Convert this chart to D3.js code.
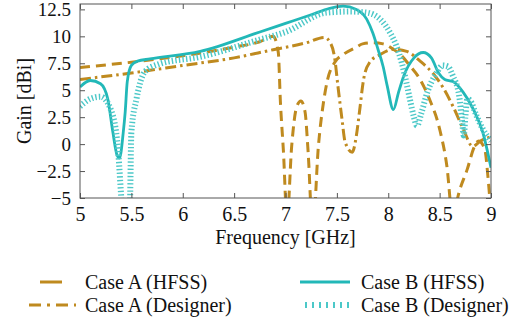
<!DOCTYPE html>
<html>
<head>
<meta charset="utf-8">
<script src="https://cdn.jsdelivr.net/npm/d3@7"></script>
<style>
  body { margin: 0; background: #fff; }
  svg { display: block; font-family: "Liberation Serif", "Times New Roman", Times, serif; }
</style>
</head>
<body>
<div id="chart"></div>
<script>
// Case A (HFSS) - dashed
const caseAHfssFreq = [5.0, 5.5, 6.0, 6.5, 6.75, 6.88, 6.93, 6.95, 6.98, 7.015, 7.06, 7.11, 7.15, 7.19, 7.22, 7.265, 7.32, 7.37, 7.41, 7.48, 7.56, 7.69, 7.75, 7.85, 7.95, 8.05, 8.13, 8.2, 8.31, 8.4, 8.5, 8.57, 8.63, 8.68, 8.77, 8.84, 8.88, 8.94, 8.97, 9.0];
const caseAHfssGain = [7.1, 7.6, 8.2, 9.0, 9.5, 10.0, 8.5, 4.0, -0.7, -7.0, -0.2, 3.5, 4.0, 3.0, -0.7, -8.0, -0.2, 3.9, 6.0, 7.6, 8.3, 9.0, 9.3, 9.4, 9.3, 8.8, 8.2, 7.4, 6.0, 4.2, 1.4, -2.0, -7.0, -4.8, -2.3, -0.2, 0.3, -0.5, -3.0, -6.5];

// Case A (Designer) - dash-dot
const caseADesFreq = [5.0, 5.5, 6.0, 6.5, 6.85, 7.2, 7.38, 7.43, 7.48, 7.51, 7.55, 7.58, 7.65, 7.69, 7.72, 7.76, 7.82, 7.92, 8.05, 8.18, 8.31, 8.44, 8.53, 8.63, 8.73, 8.82, 8.9, 9.0];
const caseADesGain = [6.0, 6.6, 7.3, 8.0, 8.7, 9.4, 9.9, 9.5, 7.9, 5.4, 2.3, 0.2, -0.75, 0.8, 3.0, 6.0, 7.6, 8.3, 8.8, 8.6, 7.7, 6.5, 5.3, 3.5, 1.4, -0.2, 0.3, 0.7];

// Case B (HFSS) - solid
const caseBHfssFreq = [5.0, 5.1, 5.2, 5.27, 5.32, 5.36, 5.385, 5.42, 5.44, 5.46, 5.5, 5.56, 5.68, 6.17, 6.75, 7.0, 7.25, 7.43, 7.56, 7.69, 7.79, 7.85, 7.9, 7.95, 7.99, 8.05, 8.1, 8.15, 8.25, 8.34, 8.42, 8.49, 8.55, 8.63, 8.73, 8.83, 8.92, 9.0];
const caseBHfssGain = [5.3, 5.9, 5.6, 4.2, 1.1, -1.0, -1.3, 1.0, 3.0, 5.8, 7.3, 7.7, 7.9, 8.6, 10.4, 11.2, 12.0, 12.6, 12.8, 12.5, 11.6, 10.3, 8.8, 7.2, 5.4, 3.2, 4.8, 6.3, 8.0, 8.5, 8.0, 6.6, 6.0, 5.8, 4.8, 3.2, 1.1, -2.2];

// Case B (Designer) - dotted
const caseBDesFreq = [5.0, 5.1, 5.2, 5.3, 5.37, 5.41, 5.45, 5.485, 5.5, 5.55, 5.63, 5.76, 6.17, 6.75, 7.0, 7.4, 7.63, 7.79, 7.92, 8.02, 8.08, 8.13, 8.17, 8.21, 8.25, 8.28, 8.32, 8.38, 8.47, 8.53, 8.58, 8.63, 8.69, 8.72, 8.735, 8.75, 8.77, 8.8, 8.86, 8.92, 9.0];
const caseBDesGain = [3.5, 4.2, 4.4, 3.2, -0.5, -6.0, -9.0, -6.0, 1.1, 4.2, 6.7, 7.4, 8.1, 9.7, 10.4, 12.2, 12.3, 12.2, 11.6, 10.3, 9.1, 7.6, 6.0, 4.2, 2.5, 1.7, 2.8, 4.8, 6.6, 7.3, 7.2, 6.3, 4.5, 2.0, 0.8, 2.5, 4.2, 4.0, 2.6, 1.4, 0.3];

const xTicks = [5, 5.5, 6, 6.5, 7, 7.5, 8, 8.5, 9];
const yTicks = [-5, -2.5, 0, 2.5, 5, 7.5, 10, 12.5];

const legendLabels = ['Case A (HFSS)', 'Case A (Designer)', 'Case B (HFSS)', 'Case B (Designer)'];

const orange = '#bf8a1f';
const cyan = '#22b8b8';
const cyanLight = '#4cc8c8';

const width = 523;
const height = 326;
const margin = { left: 80, right: 32, top: 4, bottom: 128 };
const plotW = width - margin.left - margin.right;
const plotH = height - margin.top - margin.bottom;

const svg = d3.select('#chart')
  .append('svg')
  .attr('width', width)
  .attr('height', height);

const x = d3.scaleLinear().domain([5, 9]).range([0, plotW]);
const y = d3.scaleLinear().domain([-5, 13]).range([plotH, 0]);

const g = svg.append('g')
  .attr('transform', `translate(${margin.left},${margin.top})`);

svg.append('defs').append('clipPath')
  .attr('id', 'plot-clip')
  .append('rect')
  .attr('width', plotW)
  .attr('height', plotH);

// build series from the arrays
const series = [
  { freq: caseAHfssFreq, gain: caseAHfssGain, color: orange, width: 3, dash: '10,6' },
  { freq: caseADesFreq, gain: caseADesGain, color: orange, width: 3, dash: '11,4,2.5,4' },
  { freq: caseBHfssFreq, gain: caseBHfssGain, color: cyan, width: 2.8, dash: null },
  { freq: caseBDesFreq, gain: caseBDesGain, color: cyanLight, width: 6, dash: '1.4,2.2' }
];

const line = d3.line()
  .x(d => x(d[0]))
  .y(d => y(d[1]))
  .curve(d3.curveMonotoneX);

const lines = g.append('g').attr('clip-path', 'url(#plot-clip)');

series.forEach(s => {
  const pts = s.freq.map((f, i) => [f, s.gain[i]]);
  lines.append('path')
    .datum(pts)
    .attr('fill', 'none')
    .attr('stroke', s.color)
    .attr('stroke-width', s.width)
    .attr('stroke-dasharray', s.dash)
    .attr('d', line);
});

// frame and inward ticks
const frameColor = '#555';
const tickLen = 5;

g.append('rect')
  .attr('width', plotW)
  .attr('height', plotH)
  .attr('fill', 'none')
  .attr('stroke', frameColor)
  .attr('stroke-width', 1);

const bottomAxis = g.append('g')
  .attr('transform', `translate(0,${plotH})`)
  .call(d3.axisBottom(x).tickValues(xTicks).tickSizeInner(-tickLen).tickSizeOuter(0).tickPadding(9)
    .tickFormat(d3.format('')));
const topAxis = g.append('g')
  .call(d3.axisTop(x).tickValues(xTicks).tickSizeInner(-tickLen).tickSizeOuter(0).tickFormat(''));
const leftAxis = g.append('g')
  .call(d3.axisLeft(y).tickValues(yTicks).tickSizeInner(-tickLen).tickSizeOuter(0).tickPadding(9)
    .tickFormat(d3.format('')));
const rightAxis = g.append('g')
  .attr('transform', `translate(${plotW},0)`)
  .call(d3.axisRight(y).tickValues(yTicks).tickSizeInner(-tickLen).tickSizeOuter(0).tickFormat(''));

[bottomAxis, topAxis, leftAxis, rightAxis].forEach(a => {
  a.select('.domain').remove();
  a.selectAll('line').attr('stroke', frameColor);
  a.selectAll('text')
    .attr('fill', '#111')
    .style('font-family', '"Liberation Serif", "Times New Roman", serif')
    .style('font-size', '20px');
});
leftAxis.selectAll('text').style('font-size', '19px');

// axis titles
svg.append('text')
  .attr('x', margin.left + plotW / 2)
  .attr('y', 244)
  .attr('text-anchor', 'middle')
  .attr('fill', '#111')
  .style('font-size', '20px')
  .text('Frequency [GHz]');

svg.append('text')
  .attr('transform', `translate(31,${margin.top + plotH / 2}) rotate(-90)`)
  .attr('text-anchor', 'middle')
  .attr('fill', '#111')
  .style('font-size', '20px')
  .text('Gain [dBi]');

// legend
const legendItems = [
  { label: legendLabels[0], x1: 40, x2: 62, y: 282, tx: 85, s: series[0], dash: null },
  { label: legendLabels[1], x1: 29, x2: 76, y: 305, tx: 85, s: series[1], dash: '12,6,3,6' },
  { label: legendLabels[2], x1: 300, x2: 350, y: 282, tx: 361, s: series[2], dash: null },
  { label: legendLabels[3], x1: 305, x2: 350, y: 305, tx: 361, s: series[3], dash: '2,5' }
];

const legend = svg.append('g').attr('class', 'legend');

legendItems.forEach(item => {
  legend.append('line')
    .attr('x1', item.x1)
    .attr('x2', item.x2)
    .attr('y1', item.y)
    .attr('y2', item.y)
    .attr('stroke', item.s.color)
    .attr('stroke-width', item.s === series[3] ? 6 : 3)
    .attr('stroke-dasharray', item.dash);

  legend.append('text')
    .attr('x', item.tx)
    .attr('y', item.y + 7)
    .attr('fill', '#111')
    .style('font-size', '20px')
    .text(item.label);
});
</script>
</body>
</html>
